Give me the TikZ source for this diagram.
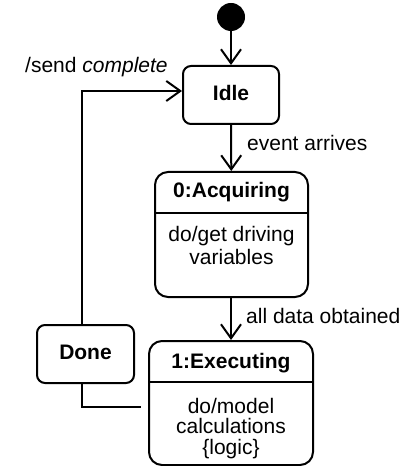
\documentclass[tikz,border=0pt]{standalone}
\usepackage{fontspec}
\setmainfont{Liberation Sans}
\usetikzlibrary{arrows.meta}
\begin{document}
\begin{tikzpicture}[x=1bp,y=-1bp,
  every node/.style={font=\fontsize{21bp}{23bp}\selectfont},
  line/.style={line width=2bp},
  flow/.style={line, -{Straight Barb[length=14bp,width=20bp,line width=2bp]}},
  state/.style={draw, line width=2bp, rounded corners=8bp, inner sep=0pt},
  bigstate/.style={draw, line width=2bp, rounded corners=13bp, inner sep=0pt},
  title/.style={font=\fontsize{21bp}{23bp}\selectfont\bfseries},
  label/.style={anchor=west, inner sep=0pt}
]
\useasboundingbox (0,0) rectangle (408,466);

% initial pseudo-state
\node[circle, fill=black, minimum size=28bp, inner sep=0pt] (init) at (231,17) {};

% simple states
\node[state, minimum width=96bp, minimum height=58bp] (idle) at (231,95) {};
\node[title] (idlet) at (231,93) {Idle};
\node[state, minimum width=97bp, minimum height=58bp] (done) at (85.5,354) {};
\node[title] (donet) at (85.5,352) {Done};

% composite states with a title compartment
\node[bigstate, minimum width=153bp, minimum height=125bp] (acq) at (231.5,234.5) {};
\node[title] (acqt) at (231.5,192) {0:Acquiring};
\node[align=center, font=\fontsize{21bp}{23bp}\selectfont] (acqb) at (231.5,245.5) {do/get driving\\variables};
\draw[line] (acq.west |- 0,213) -- (acq.east |- 0,213);

\node[bigstate, minimum width=164bp, minimum height=124bp] (exe) at (231,403) {};
\node[title] (exet) at (231,363) {1:Executing};
\node[align=center, font=\fontsize{21bp}{20.5bp}\selectfont] (exeb) at (231,428.5) {do/model\\calculations\\\{logic\}};
\draw[line] (exe.west |- 0,382) -- (exe.east |- 0,382);

% transitions
\draw[flow] (init) -- (idle);
\draw[flow] (idle) -- (acq);
\draw[flow] (acq.south -| exe.north) -- (exe.north);
\node[label] (ev) at (247,143) {event arrives};
\node[label] (ad) at (246,316) {all data obtained};

% completion loop back to Idle
\coordinate (loopx) at (82,0);
\draw[flow] (loopx |- done.north) -- (loopx |- 0,91) -- (idle.west |- 0,91);
\node[anchor=base west, inner sep=0pt] (send) at (25,73) {/send \textit{complete}};
\coordinate (exeend) at (141,407);
\draw[line] (loopx |- done.south) -- (loopx |- exeend) -- (exeend);
\end{tikzpicture}
\end{document}
